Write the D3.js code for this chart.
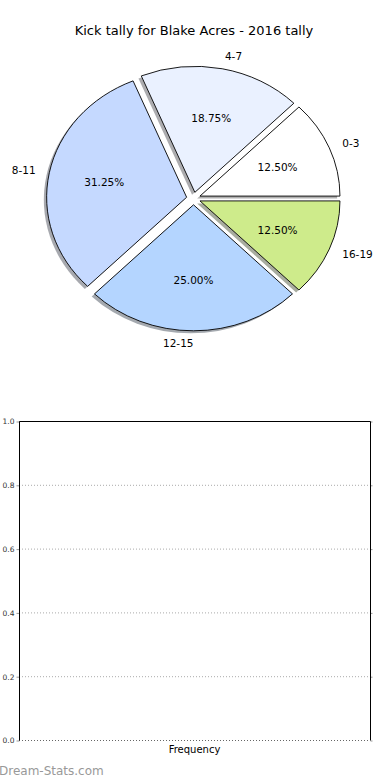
<!DOCTYPE html>
<html>
<head>
<meta charset="utf-8">
<script src="https://cdn.jsdelivr.net/npm/d3@7"></script>
<style>
  body { margin: 0; background: #fff; }
  svg { display: block; font-family: "DejaVu Sans", sans-serif; }
</style>
</head>
<body>
<svg id="chart" width="390" height="780"></svg>
<script>
(function () {
    'use strict';

    // data
    var categories = ["0-3", "4-7", "8-11", "12-15", "16-19"];
    var kicks = [2, 3, 5, 4, 2];
    var sliceColors = ["#ffffff", "#eaf1ff", "#c5d9ff", "#b4d5ff", "#ceeb8b"];
    var yTicks = [0, 0.2, 0.4, 0.6, 0.8, 1.0];
    var titleText = "Kick tally for Blake Acres - 2016 tally";

    var svg = d3.select("#chart");

    // ---- pie ----
    var cx = 193.5, cy = 198.5,
        rx = 140, ry = 126,
        EXPLODE = 0.05,
        SHADOW = 0.02;

    svg.append("text")
        .attr("x", 194)
        .attr("y", 35)
        .attr("text-anchor", "middle")
        .attr("font-size", 13)
        .attr("fill", "#000")
        .text(titleText);

    var total = d3.sum(kicks);

    // start at 3 o'clock and run counter-clockwise, like matplotlib
    var pie = d3.pie()
        .sort(null)
        .startAngle(Math.PI / 2)
        .endAngle(Math.PI / 2 - 2 * Math.PI);

    var arcs = pie(kicks).map(function (d, i) {
        var t0 = Math.PI / 2 - d.startAngle,
            t1 = Math.PI / 2 - d.endAngle,
            tm = (t0 + t1) / 2;
        return {
            t0: t0, t1: t1, tm: tm,
            ox: cx + EXPLODE * rx * Math.cos(tm),
            oy: cy - EXPLODE * ry * Math.sin(tm),
            value: d.value,
            label: categories[i],
            color: sliceColors[i]
        };
    });

    function wedgePath(a, dx, dy) {
        var x = a.ox + dx, y = a.oy + dy;
        var p = d3.path();
        p.moveTo(x, y);
        p.lineTo(x + rx * Math.cos(a.t0), y - ry * Math.sin(a.t0));
        var large = (a.t1 - a.t0) > Math.PI ? 1 : 0;
        return p.toString() +
            "A" + rx + "," + ry + ",0," + large + ",0," +
            (x + rx * Math.cos(a.t1)) + "," + (y - ry * Math.sin(a.t1)) + "Z";
    }

    // shadows first, under every wedge
    svg.append("g").selectAll("path.shadow")
        .data(arcs)
        .enter()
        .append("path")
        .attr("class", "shadow")
        .attr("d", function (a) { return wedgePath(a, -SHADOW * rx, SHADOW * ry); })
        .attr("fill", function (a) {
            var c = d3.rgb(a.color);
            return d3.rgb(c.r * 0.3, c.g * 0.3, c.b * 0.3);
        })
        .attr("fill-opacity", 0.45)
        .attr("stroke", "none");

    svg.append("g").selectAll("path.wedge")
        .data(arcs)
        .enter()
        .append("path")
        .attr("class", "wedge")
        .attr("d", function (a) { return wedgePath(a, 0, 0); })
        .attr("fill", function (a) { return a.color; })
        .attr("stroke", "#000")
        .attr("stroke-width", 0.9)
        .attr("stroke-linejoin", "miter");

    // category labels at 1.1 r
    svg.append("g").selectAll("text.cat")
        .data(arcs)
        .enter()
        .append("text")
        .attr("x", function (a) { return a.ox + 1.1 * rx * Math.cos(a.tm); })
        .attr("y", function (a) { return a.oy - 1.1 * ry * Math.sin(a.tm); })
        .attr("dy", "0.35em")
        .attr("text-anchor", function (a) { return Math.cos(a.tm) > 1e-9 ? "start" : "end"; })
        .attr("font-size", 10.5)
        .text(function (a) { return a.label; });

    // percentages at 0.6 r
    svg.append("g").selectAll("text.pct")
        .data(arcs)
        .enter()
        .append("text")
        .attr("x", function (a) { return a.ox + 0.6 * rx * Math.cos(a.tm); })
        .attr("y", function (a) { return a.oy - 0.6 * ry * Math.sin(a.tm); })
        .attr("dy", "0.35em")
        .attr("text-anchor", "middle")
        .attr("font-size", 10.5)
        .text(function (a) { return d3.format(".2f")(a.value / total * 100) + "%"; });

    // ---- empty frequency axes ----
    var box = { left: 19, right: 370, top: 421, bottom: 740 };

    var y = d3.scaleLinear()
        .domain([0, 1])
        .range([box.bottom, box.top]);

    var axes = svg.append("g");

    axes.selectAll("line.grid")
        .data(yTicks)
        .enter()
        .append("line")
        .attr("x1", box.left)
        .attr("x2", box.right)
        .attr("y1", function (d) { return y(d) + 0.5; })
        .attr("y2", function (d) { return y(d) + 0.5; })
        .attr("stroke", function (d) { return d === 0 ? "#666" : "#aaa"; })
        .attr("stroke-width", 1)
        .attr("stroke-dasharray", "1,2");

    var yAxis = axes.append("g")
        .attr("transform", "translate(" + (box.left + 0.5) + ",0.5)")
        .call(d3.axisLeft(y).tickValues(yTicks).tickFormat(d3.format(".1f")).tickSize(3).tickPadding(2));
    yAxis.select(".domain").remove();
    yAxis.selectAll(".tick line").attr("stroke", "#999");
    yAxis.selectAll(".tick text")
        .attr("font-family", "DejaVu Sans, sans-serif")
        .attr("font-size", 7.5)
        .attr("fill", "#333");

    var yAxisR = axes.append("g")
        .attr("transform", "translate(" + (box.right + 0.5) + ",0.5)")
        .call(d3.axisRight(y).tickValues(yTicks).tickFormat("").tickSize(2));
    yAxisR.select(".domain").remove();
    yAxisR.selectAll(".tick line").attr("stroke", "#999");

    // left, top, right spines
    axes.append("path")
        .attr("d", "M" + (box.left + 0.5) + "," + (box.bottom + 0.5) +
            "V" + (box.top + 0.5) + "H" + (box.right + 0.5) + "V" + (box.bottom + 0.5))
        .attr("fill", "none")
        .attr("stroke", "#000")
        .attr("stroke-width", 1);

    svg.append("text")
        .attr("x", (box.left + box.right) / 2)
        .attr("y", 753)
        .attr("text-anchor", "middle")
        .attr("font-size", 10)
        .text("Frequency");

    svg.append("text")
        .attr("x", -1)
        .attr("y", 775)
        .attr("font-size", 12)
        .attr("fill", "#999")
        .text("Dream-Stats.com");
})();
</script>
</body>
</html>
